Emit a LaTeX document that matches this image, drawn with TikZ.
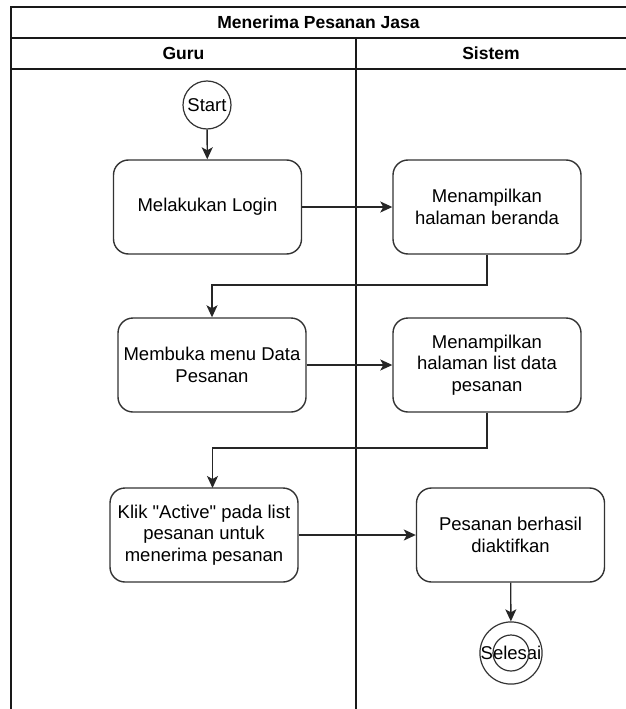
\documentclass[tikz,border=0pt]{standalone}
\usepackage{fontspec}
\setmainfont{Liberation Sans}
\usetikzlibrary{arrows.meta,calc}
\begin{document}
\begin{tikzpicture}[x=1pt,y=-1pt,
  lane/.style={draw=black!90, line width=1.7pt},
  hdr/.style={font=\bfseries\fontsize{17.5}{20}\selectfont, inner sep=0pt},
  act/.style={draw=black!80, line width=1.4pt, rounded corners=15pt,
    minimum width=188pt, minimum height=94pt, align=center, inner sep=2pt,
    font=\fontsize{18.5}{21.5}\selectfont},
  startnode/.style={draw=black!80, line width=1.2pt, circle, minimum size=48pt,
    inner sep=0pt, font=\fontsize{18.5}{21.5}\selectfont},
  endouter/.style={draw=black!80, line width=1.2pt, circle, minimum size=48pt,
    inner sep=0pt, font=\fontsize{18.5}{21.5}\selectfont},
  endinner/.style={draw=black!80, line width=1.2pt, circle, minimum size=36pt,
    inner sep=0pt},
  flow/.style={draw=black!85, line width=1.4pt,
    -{Stealth[length=12pt,width=11pt,inset=3pt]}},
]
\useasboundingbox (0,0) rectangle (626,709);
\fill[white] (0,0) rectangle (626,709);

% swimlane frame
\draw[lane] (626,7) -- (11,7) -- (11,709);
\draw[lane] (11,38) -- (626,38);
\draw[lane] (11,69) -- (626,69);
\draw[lane] (356,38) -- (356,709);

\node[hdr] (title) at (318.5,22) {Menerima Pesanan Jasa};
\node[hdr] (guru) at (183.5,53.5) {Guru};
\node[hdr] (sistem) at (491,53.5) {Sistem};

% activities
\node[startnode] (start) at (207,105) {Start};
\node[act] (login) at (207.5,207) {Melakukan Login};
\node[act] (beranda) at (487,207) {Menampilkan\\halaman beranda};
\node[act] (menu) at (212,365) {Membuka menu Data\\Pesanan};
\node[act] (list) at (487,365) {Menampilkan\\halaman list data\\pesanan};
\node[act] (klik) at (204,535) {Klik \textquotedbl Active\textquotedbl{} pada list\\pesanan untuk\\menerima pesanan};
\node[act] (aktif) at (510.5,535) {Pesanan berhasil\\diaktifkan};
\node[endouter] (selesai) at (511,653) {Selesai};
\node[endinner] (selesaiin) at (511,653) {};

\coordinate (bend1) at (487,285);
\coordinate (bend2) at (487,448);
\coordinate (klikin) at (212.5,488);

% flows
\draw[flow] (start) -- (login);
\draw[flow] (login) -- (beranda);
\draw[flow] (beranda.south) -- (bend1) -| (menu.north);
\draw[flow] (menu) -- (list);
\draw[flow] (list.south) -- (bend2) -| (klikin);
\draw[flow] (klik) -- (aktif);
\draw[flow] (aktif) -- (selesai);
\end{tikzpicture}
\end{document}
